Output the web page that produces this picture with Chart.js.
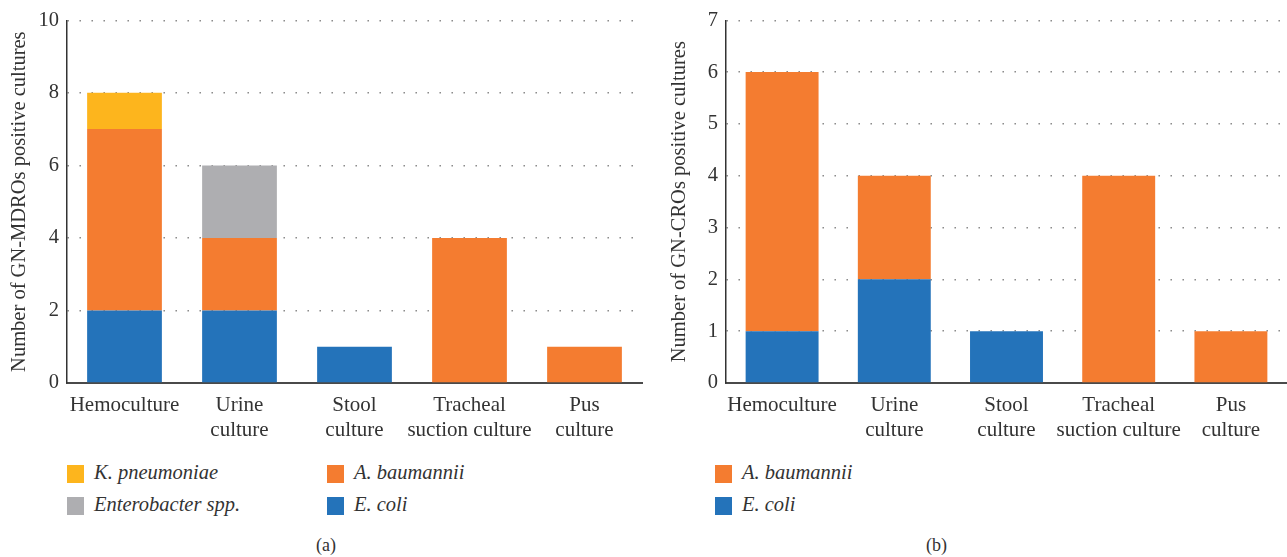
<!DOCTYPE html>
<html>
<head>
<meta charset="utf-8">
<script src="https://cdn.jsdelivr.net/npm/chart.js@4.4.1/dist/chart.umd.min.js"></script>
<style>
  body { margin: 0; background: #fff; font-family: "Liberation Serif", serif; color: #333; }
  .box { position: absolute; }
  .legend { position: absolute; font-size: 20.5px; font-style: italic; }
  .legend .item { position: absolute; white-space: nowrap; }
  .legend .sw { position: absolute; left: 0; top: 0; width: 17px; height: 18px; }
  .legend .lab { position: absolute; left: 27px; top: -4px; }
  .cap { position: absolute; font-size: 18px; top: 535px; }
</style>
</head>
<body>
<div class="box" style="left:0;top:0;width:645px;height:445px"><canvas id="chartA"></canvas></div>
<div class="box" style="left:660px;top:0;width:627px;height:445px"><canvas id="chartB"></canvas></div>
<div class="legend" id="legendA"></div>
<div class="legend" id="legendB"></div>
<div class="cap" style="left:316px">(a)</div>
<div class="cap" style="left:926px">(b)</div>
<script>
// categories (x axis)
const categories = [['Hemoculture'], ['Urine', 'culture'], ['Stool', 'culture'], ['Tracheal', 'suction culture'], ['Pus', 'culture']];

// panel (a): GN-MDROs
const ecoliA = [2, 2, 1, 0, 0];
const abaumanniiA = [5, 2, 0, 4, 1];
const enterobacterA = [0, 2, 0, 0, 0];
const kpneumoniaeA = [1, 0, 0, 0, 0];

// panel (b): GN-CROs
const ecoliB = [1, 2, 1, 0, 0];
const abaumanniiB = [5, 2, 0, 4, 1];

const yTicksA = { max: 10, step: 2 };
const yTicksB = { max: 7, step: 1 };

const colors = {
  ecoli: '#2473ba',
  abaumannii: '#f47c30',
  enterobacter: '#aeaeb1',
  kpneumoniae: '#fdb51d'
};

function makeChart(id, datasets, yt, yTitle, yWidth, padRight) {
  return new Chart(document.getElementById(id), {
    type: 'bar',
    data: { labels: categories, datasets: datasets },
    options: {
      responsive: true,
      maintainAspectRatio: false,
      animation: false,
      layout: { padding: { top: 18, right: padRight, left: 0, bottom: 0 } },
      plugins: { legend: { display: false }, tooltip: { enabled: false } },
      datasets: { bar: { categoryPercentage: 1, barPercentage: 0.65 } },
      scales: {
        x: {
          stacked: true,
          grid: { display: false, drawTicks: false },
          border: { display: true, color: '#4a4a4a', width: 2 },
          ticks: { color: '#333', font: { family: 'Liberation Serif', size: 21, lineHeight: 1.2 }, padding: 10, maxRotation: 0, autoSkip: false },
          afterFit: (s) => { s.height = 62; }
        },
        y: {
          stacked: true,
          min: 0,
          max: yt.max,
          ticks: { stepSize: yt.step, color: '#333', font: { family: 'Liberation Serif', size: 20.5 }, padding: 8 },
          grid: {
            drawTicks: false,
            color: (c) => c.tick && c.tick.value === 0 ? 'rgba(0,0,0,0)' : '#808080',
            lineWidth: 1.4
          },
          // in v4 border.dash styles the grid lines; the axis line stays solid
          border: { display: true, color: '#333', width: 1.5, dash: [1.4, 10.6] },
          title: { display: true, text: yTitle, color: '#333', font: { family: 'Liberation Serif', size: 20.5 }, padding: { top: 7, bottom: 0 } },
          afterFit: (s) => { s.width = yWidth; }
        }
      }
    }
  });
}

const dsA = [
  { label: 'E. coli', data: ecoliA, backgroundColor: colors.ecoli },
  { label: 'A. baumannii', data: abaumanniiA, backgroundColor: colors.abaumannii },
  { label: 'Enterobacter spp.', data: enterobacterA, backgroundColor: colors.enterobacter },
  { label: 'K. pneumoniae', data: kpneumoniaeA, backgroundColor: colors.kpneumoniae }
];
const dsB = [
  { label: 'E. coli', data: ecoliB, backgroundColor: colors.ecoli },
  { label: 'A. baumannii', data: abaumanniiB, backgroundColor: colors.abaumannii }
];

makeChart('chartA', dsA, yTicksA, 'Number of GN-MDROs positive cultures', 67, 3);
makeChart('chartB', dsB, yTicksB, 'Number of GN-CROs positive cultures', 66, 0);

// legends, laid out like the reference (two columns)
function buildLegend(el, left, entries) {
  el.style.left = left + 'px';
  el.style.top = '465px';
  entries.forEach((e) => {
    const it = document.createElement('div');
    it.className = 'item';
    it.style.left = e.col + 'px';
    it.style.top = e.row * 32 + 'px';
    it.innerHTML = '<div class="sw" style="background:' + e.color + '"></div><div class="lab">' + e.text + '</div>';
    el.appendChild(it);
  });
}
buildLegend(document.getElementById('legendA'), 67, [
  { text: dsA[3].label, color: colors.kpneumoniae, col: 0, row: 0 },
  { text: dsA[2].label, color: colors.enterobacter, col: 0, row: 1 },
  { text: dsA[1].label, color: colors.abaumannii, col: 260, row: 0 },
  { text: dsA[0].label, color: colors.ecoli, col: 260, row: 1 }
]);
buildLegend(document.getElementById('legendB'), 715, [
  { text: dsB[1].label, color: colors.abaumannii, col: 0, row: 0 },
  { text: dsB[0].label, color: colors.ecoli, col: 0, row: 1 }
]);
</script>
</body>
</html>
